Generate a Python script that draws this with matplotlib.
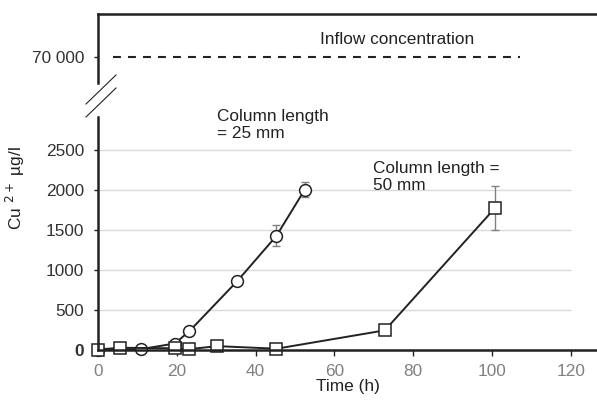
import matplotlib
matplotlib.use("Agg")
import matplotlib.pyplot as plt
from matplotlib.lines import Line2D

plt.rcParams['font.family'] = ['Liberation Sans', 'DejaVu Sans']

# ---- data ----
t25 = [0, 10.9, 19.5, 23.2, 35.4, 45.3, 52.5]
c25 = [0, 5, 75, 230, 860, 1425, 2005]
e25 = [0, 0, 0, 0, 0, 130, 100]

t50 = [0, 5.7, 19.5, 23.2, 30.3, 45.3, 72.8, 100.8]
c50 = [0, 22, 15, 5, 42, 10, 240, 1775]
e50 = [0, 0, 0, 0, 0, 0, 0, 275]

inflow = 70000
inflow_span = [3.8, 107.1]

xticks = [0, 20, 40, 60, 80, 100, 120]
yticks = [0, 500, 1000, 1500, 2000, 2500]

W, H = 597, 401
FS = 12.4
fig = plt.figure(figsize=(W / 100, H / 100), dpi=100)

def fx(px):
  return px / W

def fy(py):
  return 1 - py / H

dark = "#222222"
grey = "#808080"

# bottom (main) axes
ax = fig.add_axes([fx(98), fy(349.5), 1 - fx(98), fy(117) - fy(349.5)])
ax.set_xlim(0, (597 - 98) / 3.94)
ax.set_ylim(0, (349.5 - 117) / 0.0798)

ax.hlines(yticks[1:], 0, 120, colors="#d9d9d9", linewidth=1.0, zorder=0)

ax.errorbar(t25, c25, yerr=e25, fmt="none", ecolor=grey, elinewidth=1.0, capsize=3, zorder=2)
ax.errorbar(t50, c50, yerr=e50, fmt="none", ecolor=grey, elinewidth=1.0, capsize=3, zorder=2)
ax.plot(t25, c25, color=dark, linewidth=1.4, marker="o", markersize=8.5,
        markerfacecolor="white", markeredgecolor=dark, markeredgewidth=1.1, zorder=3, clip_on=False)
ax.plot(t50, c50, color=dark, linewidth=1.4, marker="s", markersize=8.5,
        markerfacecolor="white", markeredgecolor=dark, markeredgewidth=1.1, zorder=4, clip_on=False)

for s in ["top", "right"]:
  ax.spines[s].set_visible(False)
for s in ["left", "bottom"]:
  ax.spines[s].set_linewidth(1.8)
  ax.spines[s].set_color(dark)
  ax.spines[s].set_zorder(5)

ax.set_xticks(xticks)
ax.set_yticks(yticks)
ax.tick_params(axis="x", direction="out", length=4, width=1.0, color=dark,
               labelsize=FS, labelcolor=grey, pad=6.5)
ax.tick_params(axis="y", direction="out", length=3, width=1.0, color=dark,
               labelsize=FS, labelcolor="#333333", pad=7)
ax.get_yticklabels()[0].set_fontweight("bold")

ax.set_xlabel("Time (h)", fontsize=FS, color=dark, labelpad=0)
ax.set_ylabel("Cu $^{2+}$ µg/l", fontsize=FS, color=dark)
ax.yaxis.set_label_coords(-0.142, 0.695)

ax.text(30.2, (349.5 - 109) / 0.0798, "Column length\n= 25 mm", fontsize=FS, color=dark,
        va="top", ha="left", linespacing=1.17, clip_on=False)
ax.text(69.8, (349.5 - 161) / 0.0798, "Column length =\n50 mm", fontsize=FS, color=dark,
        va="top", ha="left", linespacing=1.17)

# top axes with the inflow level
ax2 = fig.add_axes([fx(98), fy(83), 1 - fx(98), fy(14) - fy(83)], sharex=ax)
ax2.set_ylim(inflow - (83 - 57) * 20, inflow + (57 - 14) * 20)
ax2.plot(inflow_span, [inflow, inflow], color=dark, linewidth=1.5, linestyle=(0, (3.8, 3.4)))
ax2.text(56.3, inflow + (57 - 39.5) * 20, "Inflow concentration", fontsize=FS, color=dark,
         va="center", ha="left")
for s in ["bottom", "right"]:
  ax2.spines[s].set_visible(False)
for s in ["left", "top"]:
  ax2.spines[s].set_linewidth(1.8)
  ax2.spines[s].set_color(dark)
ax2.set_yticks([inflow])
ax2.set_yticklabels(["70 000"])
ax2.tick_params(axis="x", bottom=False, labelbottom=False)
ax2.tick_params(axis="y", direction="out", length=3, width=1.0, color=dark,
                labelsize=FS, labelcolor="#333333", pad=7)

# axis break marks
for y0, y1 in [(104, 75), (117, 88)]:
  fig.add_artist(Line2D([fx(86), fx(116)], [fy(y0), fy(y1)], color=dark, linewidth=0.8))

fig.savefig("out.png", dpi=100)
